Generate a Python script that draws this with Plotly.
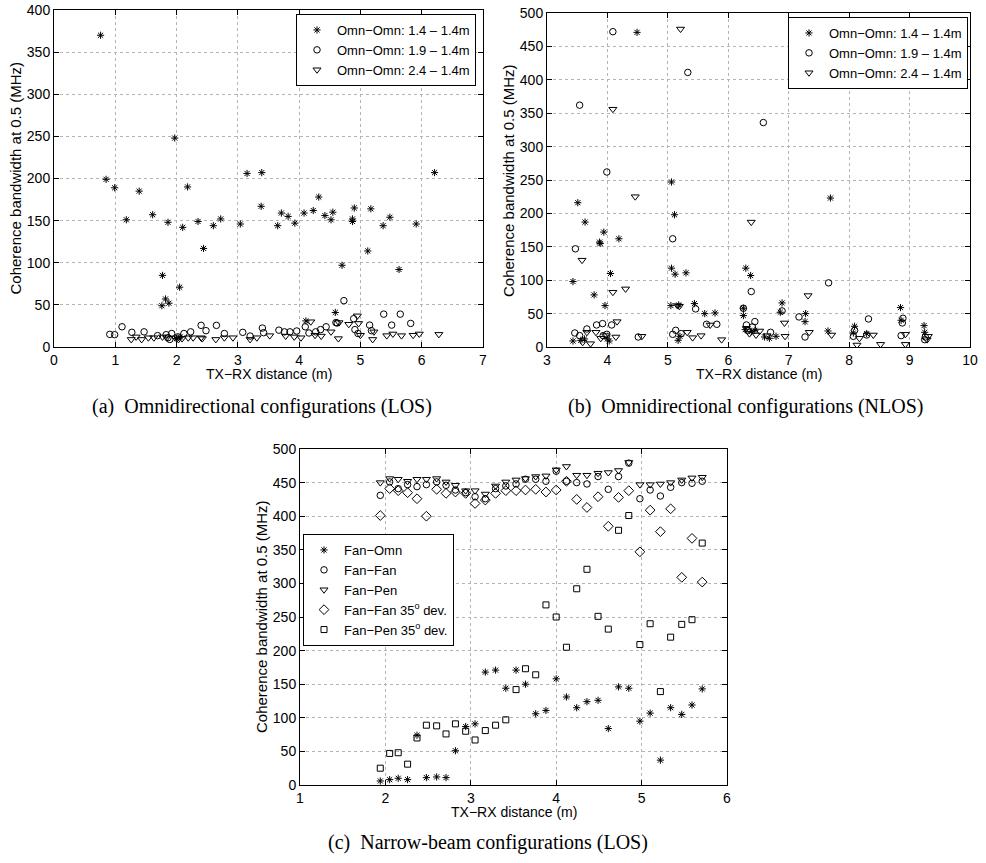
import plotly.graph_objects as go

# ---------------- (a) Omnidirectional configurations (LOS) ----------------
a_star_x = [0.76, 0.85, 0.99, 1.18, 1.39, 1.61, 1.86, 1.77, 1.82, 1.76, 1.875, 1.97, 2.05, 2.10, 2.18,
            2.35, 2.44, 2.60, 2.72, 3.04, 3.15, 3.39, 3.38, 3.65, 3.71, 3.82, 3.93, 4.08, 4.23, 4.32,
            4.42, 4.52, 4.55, 4.59, 4.70, 4.87, 4.87, 4.90, 5.12, 5.17, 5.37, 5.48, 5.63, 5.91, 6.21,
            4.11, 2.00, 2.06]
a_star_y = [370, 199, 189, 151, 185, 157, 148, 85, 57, 49, 52, 248, 71, 142, 190,
            149, 117, 144, 152, 146, 206, 207, 167, 144, 159, 155, 147, 159, 162, 178,
            156, 151, 160, 41, 97, 149, 152, 165, 114, 164, 144, 154, 92, 146, 207,
            31, 10, 12]

a_circ_x = [0.91, 0.99, 1.11, 1.27, 1.47, 1.69, 1.83, 1.86, 1.92, 1.89, 2.02, 2.12, 2.23, 2.40, 2.48,
            2.65, 2.78, 3.08, 3.20, 3.40, 3.42, 3.67, 3.76, 3.85, 3.96, 4.10, 4.16, 4.27, 4.35, 4.44,
            4.60, 4.62, 4.73, 4.89, 4.91, 4.96, 5.15, 5.18, 5.38, 5.51, 5.65, 5.82]
a_circ_y = [15, 14.6, 24, 17.4, 18, 13.5, 14.6, 11, 16, 9, 12, 16, 18, 25.7, 19.4,
            25.7, 16, 17.4, 13, 22.5, 17, 20, 18, 18, 19, 24, 16.6, 18, 20.6, 24,
            29, 28.5, 55, 33.6, 20.6, 16, 26, 19.4, 39, 26, 39, 28]

a_tri_x = [1.26, 1.34, 1.43, 1.54, 1.63, 1.77, 1.84, 1.98, 2.03, 2.09, 2.19, 2.27, 2.40, 2.42, 2.64,
           2.78, 2.92, 3.20, 3.31, 3.52, 3.78, 3.92, 4.03, 4.19, 4.26, 4.36, 4.52, 4.64, 4.65, 4.81,
           4.95, 4.97, 5.00, 5.20, 5.22, 5.43, 5.53, 5.67, 5.86, 5.96, 6.28]
a_tri_y = [9, 12, 9, 11, 11, 12, 11, 11, 9, 10, 11, 11, 11, 10, 9,
           11, 11, 9, 11, 13.5, 13, 12, 11, 30, 14, 13, 18, 10, 29, 27,
           37, 28, 14, 9, 18, 13.5, 15.5, 13.5, 14, 15.5, 15]

# ---------------- (b) Omnidirectional configurations (NLOS) ----------------
b_star_x = [4.49, 3.51, 3.63, 3.94, 3.87, 3.88, 4.19, 4.05, 3.43, 3.78, 3.96, 5.06, 5.11, 5.06, 5.12,
            5.30, 5.05, 5.18, 5.44, 5.61, 5.78, 3.43, 3.56, 3.62, 4.00, 4.03, 5.17, 5.20, 6.29, 6.37,
            6.25, 6.25, 7.69, 6.89, 6.86, 7.28, 7.27, 7.65, 8.09, 8.07, 8.29, 8.85, 8.86, 9.24, 9.25,
            6.28, 6.38, 6.44, 6.60, 6.68, 6.79]
b_star_y = [471, 216, 187, 172, 157, 155, 162, 110, 98, 78, 62, 247, 198, 118, 109,
            111, 62, 63, 65, 50, 51, 9, 10, 12, 12, 9, 10, 16, 118, 107,
            58, 47, 223, 66, 52, 50, 38, 24, 31, 21, 20, 59, 40, 32, 22,
            26, 23, 25, 15, 13, 16]

b_circ_x = [4.09, 5.33, 3.54, 3.99, 3.47, 5.08, 5.46, 5.64, 5.81, 3.92, 4.07, 3.82, 3.66, 3.46, 3.54,
            3.93, 3.99, 4.51, 5.08, 5.13, 5.22, 6.58, 6.38, 7.66, 6.25, 6.44, 6.32, 6.70, 6.89, 7.17,
            7.27, 8.32, 8.09, 8.07, 8.89, 8.88, 8.86, 8.29, 9.26, 9.25, 6.40, 6.30]
b_circ_y = [472, 411, 362, 262, 147, 162, 57, 34, 34, 35, 33, 33, 27, 21, 17,
            17, 19, 15, 19, 25, 20, 336, 83, 96, 58, 38, 25, 22, 54, 45,
            15, 42, 25, 16, 43, 36, 17, 18, 15, 11, 30, 33]

b_tri_x = [5.21, 4.09, 4.46, 3.58, 4.09, 4.30, 4.16, 3.66, 3.81, 3.97, 4.14, 3.89, 3.72, 3.59, 4.57,
           5.16, 5.19, 5.32, 5.41, 5.55, 5.70, 5.89, 6.38, 7.32, 6.93, 7.34, 6.94, 6.64, 6.46, 7.71,
           8.17, 8.13, 8.40, 8.52, 8.93, 8.93, 9.31, 9.29, 6.30, 6.35, 6.52]
b_tri_y = [476, 356, 225, 130, 82, 87, 38, 22, 22, 17, 15, 13, 5, 7, 16,
           62, 61, 22, 14, 17, 33, 11, 187, 77, 36, 22, 16, 17, 18, 18,
           13, 3, 18, 4, 19, 4, 16, 11, 28, 20, 24]

# ---------------- (c) Narrow-beam configurations (LOS) ----------------
c_x = [1.94, 2.05, 2.15, 2.26, 2.37, 2.48, 2.60, 2.71, 2.82, 2.94, 3.05, 3.17, 3.29, 3.41, 3.53,
       3.64, 3.76, 3.88, 4.00, 4.12, 4.24, 4.36, 4.49, 4.61, 4.73, 4.85, 4.98, 5.10, 5.22, 5.34,
       5.47, 5.59, 5.71]
c_fan_omn = [6, 8, 10, 8, 74, 11, 12, 11, 51, 87, 91, 168, 171, 144, 171,
             150, 106, 111, 158, 131, 115, 124, 126, 84, 146, 144, 95, 107, 37, 115,
             105, 119, 143]
c_fan_fan = [431, 451, 441, 447, 444, 447, 451, 446, 439, 435, 429, 426, 441, 445, 448,
             455, 455, 452, 467, 452, 450, 448, 459, 440, 459, 479, 426, 439, 430, 443,
             450, 449, 452]
c_fan_pen = [450, 456, 455, 452, 455, 455, 456, 451, 446, 438, 438, 433, 445, 451, 454,
             456, 459, 460, 469, 474, 461, 461, 464, 465, 468, 480, 447, 447, 448, 450,
             454, 457, 458]
c_fan_fan35 = [401, 441, 438, 435, 426, 400, 440, 434, 436, 434, 419, 424, 434, 438, 438,
               439, 440, 436, 439, 452, 425, 413, 429, 385, 428, 438, 347, 409, 377, 411,
               309, 367, 302]
c_fan_pen35 = [25, 47, 48, 31, 70, 89, 88, 76, 91, 80, 67, 81, 89, 97, 142,
               173, 164, 268, 250, 205, 292, 321, 251, 232, 379, 401, 209, 240, 139, 220,
               239, 246, 360]

W, H = 986, 863
SANS = "Liberation Sans, Arial, sans-serif"
SERIF = "Liberation Serif, Times New Roman, serif"


def px_x(p):
    return p / W


def px_y(p):
    return 1 - p / H


fig = go.Figure()


def add(x, y, symbol, name, xa, ya, legend, size=6.5):
    fig.add_trace(go.Scatter(
        x=x, y=y, mode="markers", name=name, xaxis=xa, yaxis=ya, legend=legend,
        marker=dict(symbol=symbol, size=size, color="black",
                    line=dict(color="black", width=1)),
    ))


add(a_star_x, a_star_y, "asterisk-open", "Omn\u2212Omn: 1.4 \u2013 1.4m", "x", "y", "legend", 6)
add(a_circ_x, a_circ_y, "circle-open", "Omn\u2212Omn: 1.9 \u2013 1.4m", "x", "y", "legend")
add(a_tri_x, a_tri_y, "triangle-down-open", "Omn\u2212Omn: 2.4 \u2013 1.4m", "x", "y", "legend", 7)

add(b_star_x, b_star_y, "asterisk-open", "Omn\u2212Omn: 1.4 \u2013 1.4m", "x2", "y2", "legend2", 6)
add(b_circ_x, b_circ_y, "circle-open", "Omn\u2212Omn: 1.9 \u2013 1.4m", "x2", "y2", "legend2")
add(b_tri_x, b_tri_y, "triangle-down-open", "Omn\u2212Omn: 2.4 \u2013 1.4m", "x2", "y2", "legend2", 7)

add(c_x, c_fan_omn, "asterisk-open", "Fan\u2212Omn", "x3", "y3", "legend3", 6)
add(c_x, c_fan_fan, "circle-open", "Fan\u2212Fan", "x3", "y3", "legend3")
add(c_x, c_fan_pen, "triangle-down-open", "Fan\u2212Pen", "x3", "y3", "legend3", 7)
add(c_x, c_fan_fan35, "diamond-open", "Fan\u2212Fan 35<sup>o</sup> dev.", "x3", "y3", "legend3", 7.5)
add(c_x, c_fan_pen35, "square-open", "Fan\u2212Pen 35<sup>o</sup> dev.", "x3", "y3", "legend3", 6)

axis_common = dict(
    showline=True, linecolor="black", linewidth=1, mirror="ticks",
    ticks="inside", ticklen=5, tickcolor="black", tickwidth=1,
    showgrid=True, gridcolor="#b4b4b4", griddash="dot", gridwidth=1,
    zeroline=False, tickfont=dict(family=SANS, size=14, color="black"),
    automargin=False, fixedrange=True,
)

# plot-area pixel boxes: (left, right, top, bottom)
box_a = (54, 483, 10, 347)
box_b = (547, 970, 13, 347)
box_c = (300, 727, 449, 785)


def dom(box):
    l, r, t, b = box
    return [px_x(l), px_x(r)], [px_y(b), px_y(t)]


xa, ya = dom(box_a)
xb, yb = dom(box_b)
xc, yc = dom(box_c)

fig.update_layout(
    width=W, height=H, margin=dict(l=0, r=0, t=0, b=0),
    paper_bgcolor="white", plot_bgcolor="white",
    font=dict(family=SANS, size=13, color="black"),
    xaxis=dict(domain=xa, range=[0, 7], dtick=1, anchor="y", **axis_common),
    yaxis=dict(domain=ya, range=[0, 400], dtick=50, anchor="x", **axis_common),
    xaxis2=dict(domain=xb, range=[3, 10], dtick=1, anchor="y2", **axis_common),
    yaxis2=dict(domain=yb, range=[0, 500], dtick=50, anchor="x2", **axis_common),
    xaxis3=dict(domain=xc, range=[1, 6], dtick=1, anchor="y3", **axis_common),
    yaxis3=dict(domain=yc, range=[0, 500], dtick=50, anchor="x3", **axis_common),
)

legend_common = dict(
    bgcolor="white", bordercolor="black", borderwidth=1,
    font=dict(family=SANS, size=13, color="black"),
    tracegroupgap=0, itemclick=False, itemdoubleclick=False,
)
fig.update_layout(
    legend=dict(x=px_x(476), y=px_y(14), xanchor="right", yanchor="top", **legend_common),
    legend2=dict(x=px_x(968), y=px_y(17), xanchor="right", yanchor="top", **legend_common),
    legend3=dict(x=px_x(303), y=px_y(534), xanchor="left", yanchor="top", **legend_common),
)

# axis titles and captions
annots = []
for box in (box_a, box_b, box_c):
    l, r, t, b = box
    annots.append(dict(text="TX\u2212RX distance (m)", x=px_x((l + r) / 2), y=px_y(b + 27),
                       xref="paper", yref="paper", xanchor="center", yanchor="middle",
                       showarrow=False, font=dict(family=SANS, size=14, color="black")))
    annots.append(dict(text="Coherence bandwidth at 0.5 (MHz)", x=px_x(l - 39), y=px_y((t + b) / 2),
                       xref="paper", yref="paper", xanchor="center", yanchor="middle",
                       showarrow=False, textangle=-90,
                       font=dict(family=SANS, size=15, color="black")))

captions = [
    ("(a)  Omnidirectional configurations (LOS)", 262, 407),
    ("(b)  Omnidirectional configurations (NLOS)", 745, 407),
    ("(c)  Narrow-beam configurations (LOS)", 488, 842),
]
for text, cx, cy in captions:
    annots.append(dict(text=text, x=px_x(cx), y=px_y(cy), xref="paper", yref="paper",
                       xanchor="center", yanchor="middle", showarrow=False,
                       font=dict(family=SERIF, size=20, color="black")))

fig.update_layout(annotations=annots)

fig.write_html("out.html")
